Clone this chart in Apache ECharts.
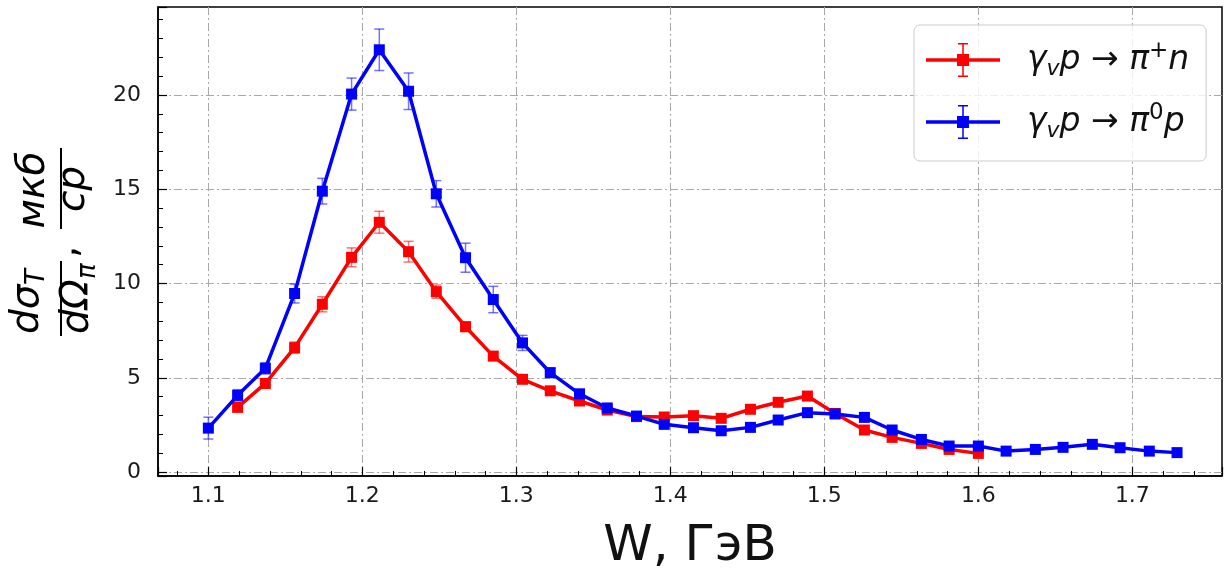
<!DOCTYPE html>
<html>
<head>
<meta charset="utf-8">
<script src="https://cdn.jsdelivr.net/npm/echarts@6/dist/echarts.min.js"></script>
<style>
  html, body { margin: 0; padding: 0; background: #fff; }
  #chart { width: 1224px; height: 569px; }
</style>
</head>
<body>
<div id="chart"></div>
<script>
// γv p → π+ n
const wPiPlus = [1.119, 1.137, 1.156, 1.174, 1.193, 1.211, 1.230, 1.248, 1.267, 1.285,
                 1.304, 1.322, 1.341, 1.359, 1.378, 1.396, 1.415, 1.433, 1.452, 1.470,
                 1.489, 1.507, 1.526, 1.544, 1.563, 1.581, 1.600];
const xsPiPlus = [3.43, 4.70, 6.60, 8.90, 11.39, 13.25, 11.69, 9.57, 7.71, 6.15,
                  4.92, 4.31, 3.77, 3.29, 2.94, 2.92, 2.99, 2.85, 3.33, 3.70,
                  4.03, 3.11, 2.23, 1.84, 1.52, 1.20, 0.99];
const errPiPlus = [0.20, 0.25, 0.30, 0.40, 0.50, 0.58, 0.55, 0.35, 0.25, 0.20,
                   0.15, 0.15, 0.12, 0.10, 0.10, 0.10, 0.10, 0.10, 0.12, 0.12,
                   0.12, 0.10, 0.10, 0.08, 0.08, 0.08, 0.08];

// γv p → π0 p
const wPi0 = [1.100, 1.119, 1.137, 1.156, 1.174, 1.193, 1.211, 1.230, 1.248, 1.267,
              1.285, 1.304, 1.322, 1.341, 1.359, 1.378, 1.396, 1.415, 1.433, 1.452,
              1.470, 1.489, 1.507, 1.526, 1.544, 1.563, 1.581, 1.600, 1.618, 1.637,
              1.655, 1.674, 1.692, 1.711, 1.729];
const xsPi0 = [2.33, 4.07, 5.50, 9.47, 14.90, 20.05, 22.40, 20.20, 14.76, 11.37,
               9.15, 6.85, 5.27, 4.15, 3.40, 2.97, 2.53, 2.35, 2.19, 2.37,
               2.76, 3.15, 3.08, 2.90, 2.23, 1.73, 1.38, 1.38, 1.11, 1.20,
               1.31, 1.47, 1.29, 1.11, 1.03];
const errPi0 = [0.58, 0.30, 0.30, 0.50, 0.68, 0.85, 1.10, 0.97, 0.70, 0.77,
                0.70, 0.40, 0.25, 0.20, 0.15, 0.15, 0.15, 0.12, 0.12, 0.12,
                0.12, 0.12, 0.12, 0.12, 0.10, 0.10, 0.10, 0.10, 0.08, 0.08,
                0.08, 0.08, 0.08, 0.08, 0.08];

const nameRed = 'pi+n';
const nameBlue = 'pi0p';
const legendLabels = {
  'pi+n': '{i|γ}{sb|v}{i|p}{r| → }{i|π}{sp|+}{i|n}',
  'pi0p': '{i|γ}{sb|v}{i|p}{r| → }{i|π}{sp|0}{i|p}'
};

const RED = '#ff0000';
const BLUE = '#0000ff';
const FONT = 'DejaVu Sans';

// legend marker: line, square marker and a capped error bar
const errIcon = 'path://M0 17.25H74V20.75H0Z M31 13H43V25H31Z M36.25 2H37.75V36H36.25Z M32 2H42V3.5H32Z M32 34.5H42V36H32Z';

function errorBars(color) {
  return function (params, api) {
    const x = api.value(0), y = api.value(1), e = api.value(2);
    const hi = api.coord([x, y + e]);
    const lo = api.coord([x, y - e]);
    const cap = 5;
    const style = { stroke: color, lineWidth: 1.5, fill: null };
    return {
      type: 'group',
      children: [
        { type: 'line', shape: { x1: hi[0], y1: hi[1], x2: lo[0], y2: lo[1] }, style },
        { type: 'line', shape: { x1: hi[0] - cap, y1: hi[1], x2: hi[0] + cap, y2: hi[1] }, style },
        { type: 'line', shape: { x1: lo[0] - cap, y1: lo[1], x2: lo[0] + cap, y2: lo[1] }, style }
      ]
    };
  };
}

const gridDash = { color: '#a9a9a9', width: 1, type: [8, 3, 2, 3] };

function isMultiple(v, step) {
  const k = v / step;
  return Math.abs(k - Math.round(k)) < 1e-6;
}

// rotated y-axis title, built from text pieces (local x runs up the page)
function ytxt(text, u, v, size, align, italic) {
  return {
    type: 'text', x: u, y: v, silent: true,
    style: {
      text: text,
      font: (italic === false ? '' : 'italic ') + size + 'px "' + FONT + '"',
      fill: '#000',
      align: align, textAlign: align,
      verticalAlign: 'middle', textVerticalAlign: 'middle'
    }
  };
}
function ybar(u1, u2, v) {
  return { type: 'line', silent: true, shape: { x1: u1, y1: v, x2: u2, y2: v }, style: { stroke: '#000', lineWidth: 2 } };
}

const yTitle = {
  type: 'group', rotation: Math.PI / 2, x: 0, y: 0, silent: true,
  children: [
    ytxt('dσ', -334, 28, 39, 'left'),
    ytxt('T', -285, 37, 26, 'left'),
    ybar(-336, -261, 61),
    ytxt('dΩ', -334, 78, 39, 'left'),
    ytxt('π', -279, 88, 26, 'left'),
    ytxt(',', -258, 66, 39, 'left', false),
    ytxt('мкб', -190, 34, 39, 'center'),
    ybar(-229, -148, 61),
    ytxt('ср', -189, 74, 39, 'center')
  ]
};

const richBase = { fontFamily: FONT, color: '#111' };
const chart = echarts.init(document.getElementById('chart'), null, { renderer: 'canvas' });
chart.setOption({
  animation: false,
  backgroundColor: '#fff',
  grid: {
    left: 158, top: 7, width: 1064, height: 469,
    containLabel: false, outerBoundsMode: 'none',
    show: true, borderColor: '#000', borderWidth: 1.5, backgroundColor: 'transparent'
  },
  xAxis: {
    type: 'value', min: 1.0673, max: 1.7582, splitNumber: 7,
    axisLine: { show: true, onZero: false, lineStyle: { color: '#000', width: 1.5 } },
    axisTick: { show: true, inside: true, length: 9, lineStyle: { color: '#000', width: 1.2 } },
    minorTick: { show: true, splitNumber: 5, length: 5, lineStyle: { color: '#000', width: 1 } },
    splitLine: { show: true, showMinLine: false, showMaxLine: false, lineStyle: gridDash },
    axisLabel: {
      formatter: v => isMultiple(v, 0.1) ? v.toFixed(1) : '',
      fontSize: 22, fontFamily: FONT, color: '#1a1a1a', margin: 9
    },
    name: 'W, ГэВ', nameLocation: 'middle', nameGap: 46,
    nameTextStyle: { fontSize: 50, fontFamily: FONT, color: '#111' }
  },
  yAxis: {
    type: 'value', min: -0.21, max: 24.67, splitNumber: 5,
    axisLine: { show: true, onZero: false, lineStyle: { color: '#000', width: 1.5 } },
    axisTick: { show: true, inside: true, length: 9, lineStyle: { color: '#000', width: 1.2 } },
    minorTick: { show: true, splitNumber: 5, length: 5, lineStyle: { color: '#000', width: 1 } },
    splitLine: { show: true, showMinLine: false, showMaxLine: false, lineStyle: gridDash },
    axisLabel: {
      formatter: v => isMultiple(v, 5) ? String(Math.round(v)) : '',
      fontSize: 22, fontFamily: FONT, color: '#1a1a1a', margin: 17
    }
  },
  legend: {
    left: 914, top: 25, orient: 'vertical',
    data: [nameRed, nameBlue],
    icon: errIcon, itemWidth: 74, itemHeight: 38, itemGap: 22,
    padding: [15, 17, 19, 12],
    backgroundColor: 'rgba(255,255,255,0.8)',
    borderColor: '#cccccc', borderWidth: 1, borderRadius: 6,
    formatter: name => legendLabels[name],
    textStyle: {
      padding: [0, 0, 0, 22],
      rich: {
        i: Object.assign({ fontSize: 33, fontStyle: 'italic', lineHeight: 40 }, richBase),
        r: Object.assign({ fontSize: 33, lineHeight: 40 }, richBase),
        sb: Object.assign({ fontSize: 22, fontStyle: 'italic', lineHeight: 22, verticalAlign: 'bottom' }, richBase),
        sp: Object.assign({ fontSize: 23, lineHeight: 24, verticalAlign: 'top' }, richBase)
      }
    }
  },
  graphic: [yTitle],
  series: [
    {
      type: 'custom', name: nameRed + ' err', z: 1, clip: true,
      renderItem: errorBars('rgba(255,0,0,0.55)'),
      data: wPiPlus.map((w, i) => [w, xsPiPlus[i], errPiPlus[i]])
    },
    {
      type: 'line', name: nameRed, z: 2,
      data: wPiPlus.map((w, i) => [w, xsPiPlus[i]]),
      symbol: 'rect', symbolSize: 11,
      lineStyle: { color: RED, width: 3.5 },
      itemStyle: { color: RED }
    },
    {
      type: 'custom', name: nameBlue + ' err', z: 3, clip: true,
      renderItem: errorBars('rgba(0,0,255,0.55)'),
      data: wPi0.map((w, i) => [w, xsPi0[i], errPi0[i]])
    },
    {
      type: 'line', name: nameBlue, z: 4,
      data: wPi0.map((w, i) => [w, xsPi0[i]]),
      symbol: 'rect', symbolSize: 11,
      lineStyle: { color: BLUE, width: 3.5 },
      itemStyle: { color: BLUE }
    }
  ]
});
</script>
</body>
</html>
